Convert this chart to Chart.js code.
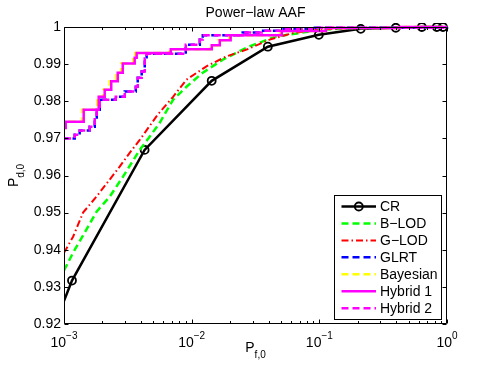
<!DOCTYPE html>
<html><head><meta charset="utf-8">
<script src="https://cdn.jsdelivr.net/npm/chart.js@4.4.0/dist/chart.umd.min.js"></script>
<style>html,body{margin:0;padding:0;background:#fff;}canvas{display:block;}</style>
</head><body>
<canvas id="c" width="494" height="366"></canvas>
<script>
// ---------- data ----------
const seriesNames = ['CR', 'B\u2212LOD', 'G\u2212LOD', 'GLRT', 'Bayesian', 'Hybrid 1', 'Hybrid 2'];

const crPf = [0.0009, 0.001155, 0.00428, 0.01435, 0.0395, 0.0991, 0.211, 0.397, 0.635, 0.832, 0.929];
const crPd = [0.9222, 0.9317, 0.9669, 0.9855, 0.9947, 0.9979, 0.9995, 0.9998, 1.0, 1.0, 1.0];

const blodPf = [0.001, 0.001178, 0.001452, 0.001794, 0.00228, 0.0029, 0.00392, 0.0047, 0.00562, 0.00715, 0.0091, 0.01222, 0.01754, 0.02754, 0.0462, 0.0704, 0.1065, 0.173, 1];
const blodPd = [0.9344, 0.9392, 0.9446, 0.9502, 0.9543, 0.9597, 0.9669, 0.9705, 0.9742, 0.9804, 0.9839, 0.9877, 0.9912, 0.9946, 0.9975, 0.9984, 0.9993, 0.9997, 1.0];

const glodPf = [0.001, 0.001178, 0.00141, 0.001794, 0.00228, 0.00273, 0.00327, 0.00392, 0.00542, 0.00715, 0.0091, 0.01305, 0.01875, 0.02685, 0.0409, 0.0624, 0.101, 0.173, 1];
const glodPd = [0.9392, 0.9435, 0.9500, 0.9543, 0.9589, 0.9624, 0.9661, 0.9696, 0.9764, 0.9812, 0.9858, 0.9894, 0.9921, 0.9939, 0.9966, 0.9984, 0.9993, 0.9997, 1.0];

const glrtPf = [0.001, 0.001213, 0.001327, 0.001589, 0.001741, 0.001805, 0.001905, 0.002543, 0.00299, 0.00365, 0.00378, 0.00406, 0.00429, 0.00444, 0.00899, 0.01158, 0.01222, 0.0251, 0.0354, 0.0508, 0.0922, 1];
const glrtPd = [0.9700, 0.9710, 0.9721, 0.9731, 0.9756, 0.9777, 0.9804, 0.9812, 0.9826, 0.9839, 0.9863, 0.9880, 0.9915, 0.9928, 0.9952, 0.9966, 0.9978, 0.9985, 0.9990, 0.9994, 0.9998, 1.0];

const bayesPf = [0.001, 0.001005, 0.00139, 0.00182, 0.00203, 0.00228, 0.00256, 0.0028, 0.00348, 0.00361, 0.0067, 0.014, 0.0162, 0.0197, 0.0495, 0.11, 0.42, 1];
const bayesPd = [0.9728, 0.9745, 0.9777, 0.9812, 0.9831, 0.9854, 0.9877, 0.9902, 0.9917, 0.9930, 0.9940, 0.9951, 0.9964, 0.9978, 0.9989, 0.9997, 1.0, 1.0];

const hyb1Pf = [0.001, 0.001031, 0.001427, 0.00187, 0.002084, 0.002344, 0.002636, 0.002886, 0.00358, 0.00371, 0.00686, 0.01437, 0.0166, 0.0202, 0.0508, 0.1125, 0.428, 1];
const hyb1Pd = [0.9728, 0.9745, 0.9777, 0.9812, 0.9831, 0.9854, 0.9877, 0.9902, 0.9917, 0.9930, 0.9940, 0.9951, 0.9964, 0.9978, 0.9989, 0.9997, 1.0, 1.0];

const hyb2Pf = [0.001, 0.001213, 0.001327, 0.001589, 0.001741, 0.001805, 0.001905, 0.002543, 0.00299, 0.00365, 0.00378, 0.00406, 0.00429, 0.00444, 0.00899, 0.01158, 0.01222, 0.0251, 0.0354, 0.0508, 0.0922, 1];
const hyb2Pd = [0.9700, 0.9710, 0.9721, 0.9731, 0.9756, 0.9777, 0.9804, 0.9812, 0.9826, 0.9839, 0.9863, 0.9880, 0.9915, 0.9928, 0.9952, 0.9966, 0.9978, 0.9985, 0.9990, 0.9994, 0.9998, 1.0];

const yTickValues = [0.92, 0.93, 0.94, 0.95, 0.96, 0.97, 0.98, 0.99, 1];
const yTickLabels = ['0.92', '0.93', '0.94', '0.95', '0.96', '0.97', '0.98', '0.99', '1'];
const xTickValues = [0.001, 0.01, 0.1, 1];
const xTickExponents = ['\u22123', '\u22122', '\u22121', '0'];
const titleText = 'Power\u2212law AAF';
const xLabelMain = 'P', xLabelSub = 'f,0';
const yLabelMain = 'P', yLabelSub = 'd,0';

// ---------- chart ----------
const FONT = '"Liberation Sans", Arial, Helvetica, sans-serif';
const pts = (pf, pd) => pf.map((v, i) => ({ x: v, y: pd[i] }));
const common = { fill: false, tension: 0, pointRadius: 0, borderCapStyle: 'butt', clip: { left: 0, top: 4, right: 4, bottom: 0 } };

const datasets = [
  Object.assign({}, common, { label: seriesNames[0], data: pts(crPf, crPd), borderColor: '#000000', borderWidth: 2.5,
    pointRadius: 4, pointBorderWidth: 1.8, pointBorderColor: '#000000', pointBackgroundColor: 'rgba(0,0,0,0)', order: 7 }),
  Object.assign({}, common, { label: seriesNames[1], data: pts(blodPf, blodPd), borderColor: '#00ff00', borderWidth: 2.5, borderDash: [7, 4], order: 6 }),
  Object.assign({}, common, { label: seriesNames[2], data: pts(glodPf, glodPd), borderColor: '#ff0000', borderWidth: 2, borderDash: [7, 3, 1.5, 3], order: 5 }),
  Object.assign({}, common, { label: seriesNames[3], data: pts(glrtPf, glrtPd), borderColor: '#0000ff', borderWidth: 2.5, borderDash: [7, 4], borderDashOffset: 2.5, stepped: true, order: 4 }),
  Object.assign({}, common, { label: seriesNames[4], data: pts(bayesPf, bayesPd), borderColor: '#ffff00', borderWidth: 2.5, borderDash: [7, 4], stepped: true, order: 3 }),
  Object.assign({}, common, { label: seriesNames[5], data: pts(hyb1Pf, hyb1Pd), borderColor: '#ff00ff', borderWidth: 2.5, stepped: true, order: 2 }),
  Object.assign({}, common, { label: seriesNames[6], data: pts(hyb2Pf, hyb2Pd), borderColor: '#ff00ff', borderWidth: 2.5, borderDash: [7, 4], stepped: true, order: 1 })
];

const decor = {
  id: 'decor',
  afterDatasetsDraw(chart) {
    const { ctx, chartArea: a, scales } = chart;
    const xs = scales.x, ys = scales.y;
    ctx.save();
    ctx.strokeStyle = '#000';
    ctx.lineWidth = 1;
    ctx.setLineDash([]);
    const L = Math.round(a.left) + 0.5, R = Math.round(a.right) - 0.5;
    const T = Math.round(a.top) + 0.5, B = Math.round(a.bottom) - 0.5;
    ctx.beginPath();
    ctx.rect(L, T, R - L, B - T);
    yTickValues.forEach(v => {
      const py = Math.round(ys.getPixelForValue(v)) + 0.5;
      ctx.moveTo(L, py); ctx.lineTo(L + 4, py);
      ctx.moveTo(R, py); ctx.lineTo(R - 4, py);
    });
    xTickValues.forEach((v, i) => {
      const px = Math.round(xs.getPixelForValue(v)) + 0.5;
      ctx.moveTo(px, B); ctx.lineTo(px, B - 4);
      ctx.moveTo(px, T); ctx.lineTo(px, T + 4);
      if (i < xTickValues.length - 1) {
        for (let m = 2; m <= 9; m++) {
          const qx = Math.round(xs.getPixelForValue(v * m)) + 0.5;
          ctx.moveTo(qx, B); ctx.lineTo(qx, B - 2.5);
          ctx.moveTo(qx, T); ctx.lineTo(qx, T + 2.5);
        }
      }
    });
    ctx.stroke();

    ctx.fillStyle = '#000';
    ctx.textBaseline = 'alphabetic';
    ctx.textAlign = 'left';
    xTickValues.forEach((v, i) => {
      const px = xs.getPixelForValue(v);
      ctx.font = '14px ' + FONT;
      const w1 = ctx.measureText('10').width;
      ctx.font = '10px ' + FONT;
      const w2 = ctx.measureText(xTickExponents[i]).width;
      const x0 = px - (w1 + w2) / 2;
      ctx.font = '14px ' + FONT;
      ctx.fillText('10', x0, 346.5);
      ctx.font = '10px ' + FONT;
      ctx.fillText(xTickExponents[i], x0 + w1, 338.5);
    });

    ctx.font = '14px ' + FONT;
    ctx.textAlign = 'center';
    ctx.fillText(titleText, (a.left + a.right) / 2, 16.5);

    ctx.textAlign = 'left';
    ctx.font = '14px ' + FONT;
    let wm = ctx.measureText(xLabelMain).width;
    ctx.font = '10px ' + FONT;
    let ws = ctx.measureText(xLabelSub).width;
    let sx = (a.left + a.right) / 2 - (wm + ws) / 2;
    ctx.font = '14px ' + FONT;
    ctx.fillText(xLabelMain, sx, 351.7);
    ctx.font = '10px ' + FONT;
    ctx.fillText(xLabelSub, sx + wm, 357.5);

    ctx.save();
    ctx.translate(18.3, (a.top + a.bottom) / 2);
    ctx.rotate(-Math.PI / 2);
    ctx.font = '14px ' + FONT;
    wm = ctx.measureText(yLabelMain).width;
    ctx.font = '10px ' + FONT;
    ws = ctx.measureText(yLabelSub).width;
    sx = -(wm + ws) / 2;
    ctx.font = '14px ' + FONT;
    ctx.fillText(yLabelMain, sx, 0);
    ctx.font = '10px ' + FONT;
    ctx.fillText(yLabelSub, sx + wm, 6);
    ctx.restore();

    const bx = 334.5, by = 195.5, bw = 107, bh = 124;
    ctx.fillStyle = '#fff';
    ctx.fillRect(bx, by, bw, bh);
    ctx.strokeStyle = '#000';
    ctx.lineWidth = 1;
    ctx.strokeRect(bx, by, bw, bh);
    const rowY0 = 206.5, rowStep = 16.95;
    chart.data.datasets.forEach((ds, i) => {
      const yy = rowY0 + i * rowStep;
      ctx.save();
      ctx.strokeStyle = ds.borderColor;
      ctx.lineWidth = ds.borderWidth;
      ctx.setLineDash(ds.borderDash || []);
      ctx.lineCap = 'butt';
      ctx.beginPath();
      ctx.moveTo(341.5, yy);
      ctx.lineTo(376, yy);
      ctx.stroke();
      if (ds.pointRadius > 0) {
        ctx.setLineDash([]);
        ctx.lineWidth = ds.pointBorderWidth;
        ctx.beginPath();
        ctx.arc(358.8, yy, ds.pointRadius, 0, Math.PI * 2);
        ctx.stroke();
      }
      ctx.restore();
      ctx.fillStyle = '#000';
      ctx.font = '14px ' + FONT;
      ctx.textAlign = 'left';
      ctx.textBaseline = 'middle';
      ctx.fillText(ds.label, 380, yy + 0.5);
    });
    ctx.restore();
  }
};

new Chart(document.getElementById('c'), {
  type: 'line',
  data: { datasets },
  options: {
    responsive: false,
    animation: false,
    devicePixelRatio: 1,
    layout: { padding: { left: 0, top: 27, right: 47, bottom: 42 } },
    plugins: { legend: { display: false }, tooltip: { enabled: false }, title: { display: false } },
    scales: {
      x: {
        type: 'logarithmic', min: 0.001, max: 1,
        grid: { display: false, drawTicks: false }, border: { display: false },
        ticks: { display: false },
        afterFit: s => { s.height = 0; }
      },
      y: {
        type: 'linear', min: 0.92, max: 1,
        grid: { display: false, drawTicks: false }, border: { display: false },
        ticks: { color: '#000', padding: 3, font: { family: FONT, size: 14 }, callback: (v, i) => yTickLabels[i] },
        afterBuildTicks: s => { s.ticks = yTickValues.map(v => ({ value: v })); },
        afterFit: s => { s.width = 64; }
      }
    }
  },
  plugins: [decor]
});
</script>
</body></html>
